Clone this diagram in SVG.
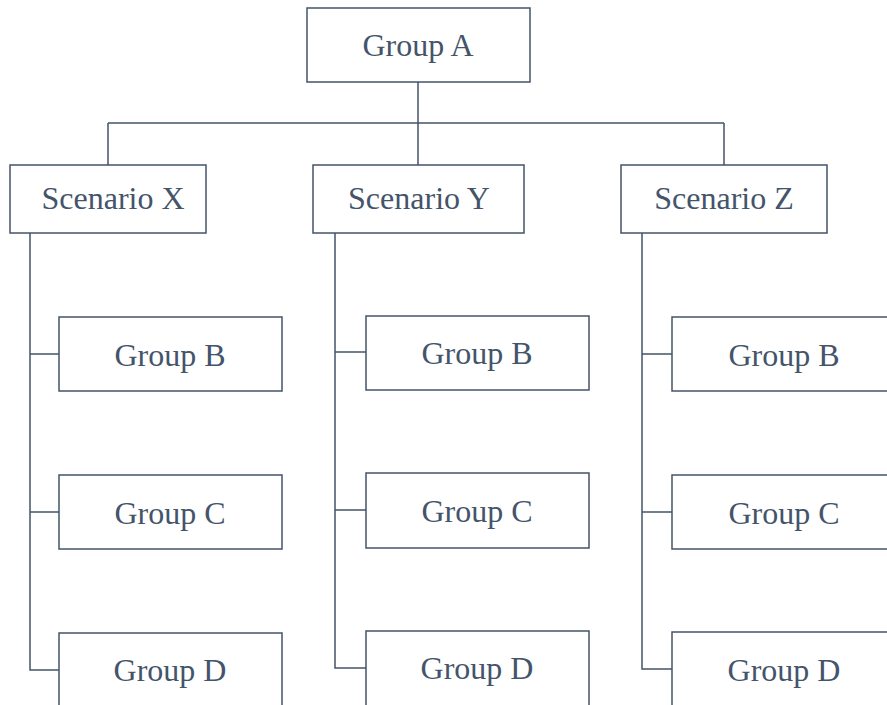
<svg xmlns="http://www.w3.org/2000/svg" width="887" height="705" viewBox="0 0 887 705">
<style>
.box{fill:#ffffff;stroke:#44546a;stroke-width:1.5}
.lbl{font-size:32px;fill:#44546a;text-anchor:middle}
.ln{fill:none;stroke:#44546a;stroke-width:1.5}
</style>
<rect width="887" height="705" fill="#ffffff"/>
<g id="connectors">
<path class="ln" d="M418,82 V165 M108,123 H724 M108,123 V165 M724,123 V165"/>
<path class="ln" d="M30,233 V670 H59 M30,354 H59 M30,512 H59"/>
<path class="ln" d="M335,233 V668 H366 M335,352 H366 M335,510 H366"/>
<path class="ln" d="M642,233 V669 H672 M642,354 H672 M642,512 H672"/>
</g>
<g font-family="Liberation Serif, Times New Roman, serif">
<g id="groupA"><rect class="box" x="307" y="8" width="223" height="74"/><text class="lbl" x="418" y="56">Group A</text></g>
<g id="scenarioX"><rect class="box" x="10" y="165" width="196" height="68"/><text class="lbl" x="113" y="209">Scenario X</text></g>
<g id="scenarioY"><rect class="box" x="313" y="165" width="211" height="68"/><text class="lbl" x="419" y="209">Scenario Y</text></g>
<g id="scenarioZ"><rect class="box" x="621" y="165" width="206" height="68"/><text class="lbl" x="724" y="209">Scenario Z</text></g>
<g id="xB"><rect class="box" x="59" y="317" width="223" height="74"/><text class="lbl" x="170" y="366">Group B</text></g>
<g id="xC"><rect class="box" x="59" y="475" width="223" height="74"/><text class="lbl" x="170" y="524">Group C</text></g>
<g id="xD"><rect class="box" x="59" y="633" width="223" height="90"/><text class="lbl" x="170" y="681">Group D</text></g>
<g id="yB"><rect class="box" x="366" y="316" width="223" height="74"/><text class="lbl" x="477" y="364">Group B</text></g>
<g id="yC"><rect class="box" x="366" y="473" width="223" height="75"/><text class="lbl" x="477" y="522">Group C</text></g>
<g id="yD"><rect class="box" x="366" y="631" width="223" height="90"/><text class="lbl" x="477" y="679">Group D</text></g>
<g id="zB"><rect class="box" x="672" y="317" width="230" height="74"/><text class="lbl" x="784" y="366">Group B</text></g>
<g id="zC"><rect class="box" x="672" y="475" width="230" height="74"/><text class="lbl" x="784" y="524">Group C</text></g>
<g id="zD"><rect class="box" x="672" y="632" width="230" height="90"/><text class="lbl" x="784" y="681">Group D</text></g>
</g>
</svg>
